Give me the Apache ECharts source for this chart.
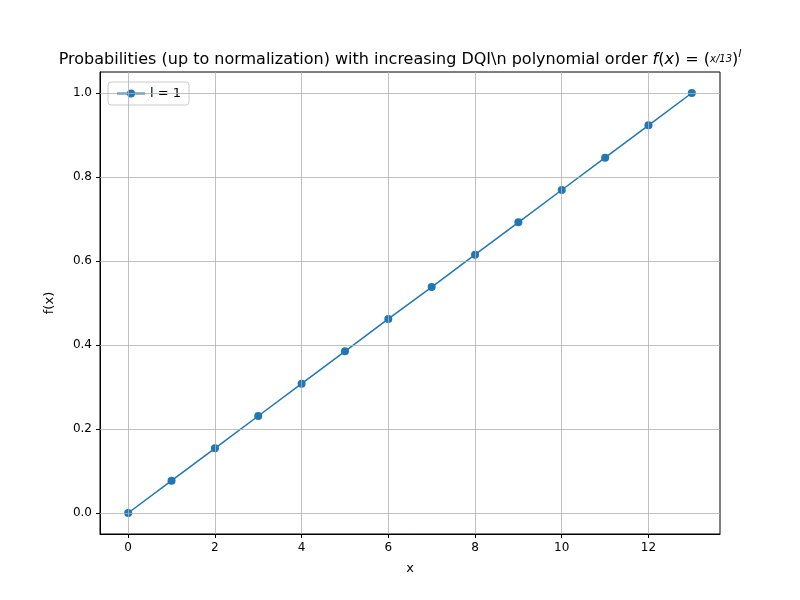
<!DOCTYPE html>
<html><head><meta charset="utf-8">
<script src="https://cdn.jsdelivr.net/npm/echarts@6/dist/echarts.min.js"></script>
<style>html,body{margin:0;background:#fff}#c{width:800px;height:600px}</style>
</head><body><div id="c"></div>
<script>
const xValues = [0,1,2,3,4,5,6,7,8,9,10,11,12,13];
const yValues = [0,0.077,0.154,0.231,0.308,0.385,0.462,0.538,0.615,0.692,0.769,0.846,0.923,1.0];
const xTicks = [0,2,4,6,8,10,12];
const yTicks = [0,0.2,0.4,0.6,0.8,1.0];
const seriesName = 'l = 1';
const chart = echarts.init(document.getElementById('c'));
const ff = 'DejaVu Sans';
const gridLine = {color:'#b0b0b0', width:0.8, type:'solid'};
chart.setOption({
  animation:false,
  textStyle:{fontFamily:ff},
  title:{
    text:'{n|Probabilities (up to normalization) with increasing DQI\\n polynomial order }{i|f}{n|(}{i|x}{n|) = (}{s|x/13}{n|)}{sup|l}',
    left:'center', top:44,
    textStyle:{fontWeight:'normal',rich:{
      n:{fontSize:16,fontFamily:ff,fontWeight:'normal',color:'#000'},
      i:{fontSize:16,fontFamily:ff,fontWeight:'normal',fontStyle:'italic',color:'#000'},
      s:{fontSize:10,fontFamily:ff,fontWeight:'normal',fontStyle:'italic',color:'#000'},
      sup:{fontSize:11,fontFamily:ff,fontWeight:'normal',fontStyle:'italic',color:'#000',verticalAlign:'top',padding:[0,0,10,0]}
    }}
  },
  legend:{
    left:108, top:82, orient:'vertical',
    backgroundColor:'rgba(255,255,255,0.8)', borderColor:'#cccccc', borderWidth:1, borderRadius:3,
    padding:[5,8], itemWidth:28, itemHeight:10,
    textStyle:{fontSize:13,color:'#000',fontFamily:ff},
    data:[seriesName]
  },
  grid:{left:100,right:80,top:72,bottom:66,show:true,borderColor:'#000',borderWidth:1,backgroundColor:'transparent'},
  xAxis:{type:'value',min:-0.65,max:13.65,name:'x',nameLocation:'middle',nameGap:28,
    nameTextStyle:{fontSize:13,color:'#000'},
    axisLine:{onZero:false,lineStyle:{color:'#000'}},
    axisTick:{customValues:xTicks,length:4,inside:false,lineStyle:{color:'#000'}},
    axisLabel:{customValues:xTicks,fontSize:12,color:'#000',margin:8},
    splitLine:{show:false}},
  yAxis:{type:'value',min:-0.05,max:1.05,name:'f(x)',nameLocation:'middle',nameGap:44,
    nameTextStyle:{fontSize:13,color:'#000'},
    axisLine:{show:true,onZero:false,lineStyle:{color:'#000'}},
    axisTick:{show:true,inside:false,customValues:yTicks,length:4,lineStyle:{color:'#000'}},
    axisLabel:{customValues:yTicks,fontSize:12,color:'#000',margin:8,formatter:v=>v.toFixed(1)},
    splitLine:{show:false}},
  series:[
    {type:'line',name:'grid',data:[],silent:true,z:1,
      markLine:{silent:true,symbol:'none',label:{show:false},lineStyle:gridLine,animation:false,
        data:[...xTicks.map(v=>({xAxis:v})),...yTicks.map(v=>({yAxis:v}))]}},
    {type:'line',name:seriesName,data:xValues.map((x,i)=>[x,yValues[i]]),z:3,
      symbol:'circle',symbolSize:8,color:'#1f77b4',
      lineStyle:{width:1.5,color:'#1f77b4'},itemStyle:{color:'#1f77b4'}}
  ]
});
</script></body></html>
